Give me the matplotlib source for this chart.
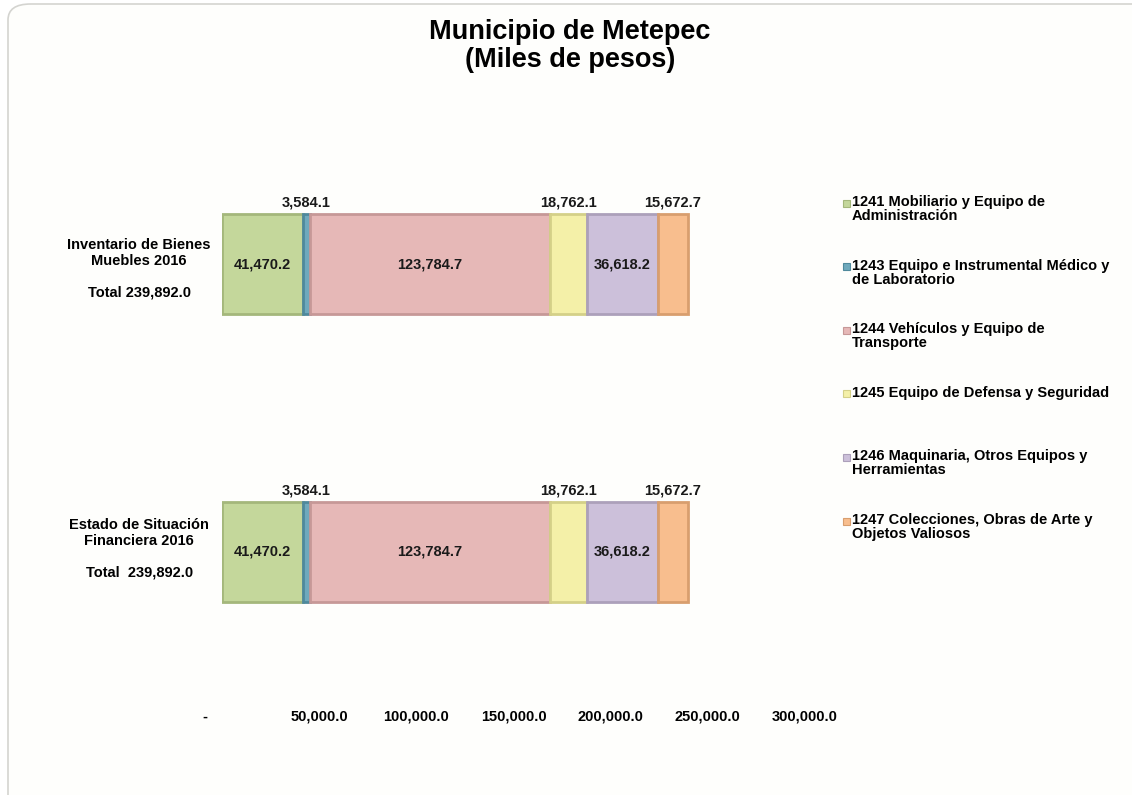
import matplotlib.pyplot as plt
from matplotlib.patches import FancyBboxPatch, Rectangle
from matplotlib.transforms import ScaledTranslation, blended_transform_factory

plt.rcParams['font.family'] = ['Liberation Sans', 'DejaVu Sans']
plt.rcParams['font.weight'] = 'bold'

# Data
filas = ["Estado de Situación\nFinanciera 2016\n\nTotal  239,892.0",
         "Inventario de Bienes\nMuebles 2016\n\nTotal 239,892.0"]
cuentas = ["1241 Mobiliario y Equipo de\nAdministración",
           "1243 Equipo e Instrumental Médico y\nde Laboratorio",
           "1244 Vehículos y Equipo de\nTransporte",
           "1245 Equipo de Defensa y Seguridad",
           "1246 Maquinaria, Otros Equipos y\nHerramientas",
           "1247 Colecciones, Obras de Arte y\nObjetos Valiosos"]
valores_estado = [41470.2, 3584.1, 123784.7, 18762.1, 36618.2, 15672.7]
valores_inventario = [41470.2, 3584.1, 123784.7, 18762.1, 36618.2, 15672.7]
ticks_x = [0, 50000, 100000, 150000, 200000, 250000, 300000]

colores = ['#C4D79B', '#6FA9BC', '#E6B8B7', '#F4F0A8', '#CCC0DA', '#F8BE8E']
bordes = ['#A4B77B', '#4F899C', '#C69897', '#D4D088', '#ACA0BA', '#D89E6E']

fig = plt.figure(figsize=(11.32, 7.95), dpi=100)
fig.patch.set_facecolor('white')

# rounded chart-area frame
marco = FancyBboxPatch((8 / 1132, -0.05), 1.1, 1 - 4 / 795 + 0.05,
                       boxstyle='round,pad=0,rounding_size=0.02',
                       transform=fig.transFigure, facecolor='#FEFEFC',
                       edgecolor='#D4D4D0', linewidth=1.2, zorder=-5)
fig.patches.append(marco)

ax = fig.add_axes([222 / 1132, 1 - 696 / 795, 583 / 1132, 576 / 795])
ax.set_facecolor('none')
ax.set_zorder(2)

y_pos = [0, 1]
altura = 100 / 288
series = [valores_estado, valores_inventario]

izq = [0.0, 0.0]
for k, nombre in enumerate(cuentas):
    vals = [series[0][k], series[1][k]]
    ax.barh(y_pos, vals, left=izq, height=altura, color=colores[k],
            edgecolor=bordes[k], linewidth=2, label=nombre)
    for j in range(2):
        centro = izq[j] + vals[j] / 2
        etiqueta = f"{vals[j]:,.1f}"
        if vals[j] > 30000:
            ax.text(centro, y_pos[j], etiqueta, ha='center', va='center',
                    fontsize=10.5, fontweight='bold', color='#1a1a1a')
        else:
            ax.text(centro, y_pos[j] + altura / 2 + 0.015, etiqueta,
                    ha='center', va='bottom', fontsize=10.5,
                    fontweight='bold', color='#1a1a1a')
    izq = [izq[0] + vals[0], izq[1] + vals[1]]

ax.set_xlim(0, 300000)
ax.set_ylim(-0.5, 1.5)
ax.set_yticks([])
ax.set_xticks(ticks_x)
ax.set_xticklabels(['-' if v == 0 else f"{v:,.1f}" for v in ticks_x],
                   fontsize=10.5, fontweight='bold')
ax.tick_params(axis='x', length=0, pad=10)
first = ax.get_xticklabels()[0]
first.set_transform(first.get_transform() +
                    ScaledTranslation(-17 / 100, 0, fig.dpi_scale_trans))
for s in ax.spines.values():
    s.set_visible(False)

# category labels
tr = blended_transform_factory(ax.transAxes, ax.transData)
desplaz = [0.011, -0.016]
for y, txt, dy in zip(y_pos, filas, desplaz):
    ax.text(-0.142, y + dy, txt, transform=tr, ha='center', va='center',
            multialignment='center', fontsize=10.5, fontweight='bold',
            linespacing=1.15)

fig.text(0.5035, 1 - 46 / 795, "Municipio de Metepec\n(Miles de pesos)",
         ha='center', va='center', fontsize=19.5, fontweight='bold',
         linespacing=1.13)

# legend drawn as colour squares plus text, one entry every ~64 px
for k, nombre in enumerate(cuentas):
    y_txt = 1 - (203 + 63.6 * k) / 795
    fig.patches.append(Rectangle((843 / 1132, y_txt - 3.5 / 795),
                                 7 / 1132, 7 / 795,
                                 transform=fig.transFigure,
                                 facecolor=colores[k], edgecolor=bordes[k],
                                 linewidth=0.8))
    fig.text(852 / 1132, y_txt + 8 / 795, nombre, ha='left', va='top',
             fontsize=10.5, fontweight='bold', linespacing=1.0)

fig.savefig('out.png', dpi=100)
